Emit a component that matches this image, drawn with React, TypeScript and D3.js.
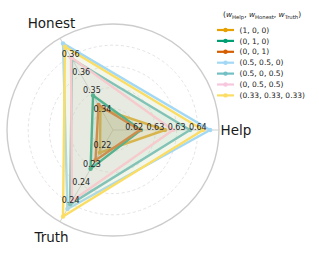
import React from 'react'
import * as d3 from 'd3'

const axisNames = ['Help', 'Honest', 'Truth']
// lower end of each axis, every axis spans 0.03
const axisLow = [0.615, 0.338, 0.218]
const axisSpan = 0.03
const tickFractions = [0.2, 0.4, 0.6, 0.8]
const tickLabels = [
  ['0.62', '0.63', '0.63', '0.64'],
  ['0.34', '0.35', '0.36', '0.36'],
  ['0.22', '0.23', '0.24', '0.24']
]

const seriesNames = [
  '(1, 0, 0)',
  '(0, 1, 0)',
  '(0, 0, 1)',
  '(0.5, 0.5, 0)',
  '(0.5, 0, 0.5)',
  '(0, 0.5, 0.5)',
  '(0.33, 0.33, 0.33)'
]
const seriesColors = ['#e6a000', '#009e73', '#d55e00', '#a3d8f5', '#72bfc4', '#f7c7de', '#fbdd63']
// [Help, Honest, Truth]
const seriesValues = [
  [0.6297, 0.3451, 0.2254],
  [0.6229, 0.3493, 0.2307],
  [0.6226, 0.3462, 0.2279],
  [0.6425, 0.3663, 0.2438],
  [0.6368, 0.3612, 0.2423],
  [0.632, 0.3618, 0.2412],
  [0.6405, 0.3652, 0.2463]
]

const width = 319,
  height = 253,
  cx = 113,
  cy = 130,
  R = 106

// d3 radial angles: 0 at 12 o'clock, clockwise
const angles = axisNames.map((d, i) => Math.PI / 2 - (i * 2 * Math.PI) / 3)
const frac = d3.scaleLinear().domain([0, 1]).range([0, R])
const axisScales = axisLow.map(lo => d3.scaleLinear().domain([lo, lo + axisSpan]).range([0, R]))

const radar = d3
  .lineRadial<number>()
  .angle((d, i) => angles[i])
  .radius((d, i) => axisScales[i](d))
  .curve(d3.curveLinearClosed)

export default function App() {
  return (
    <svg
      width={width}
      height={height}
      style={{ position: 'absolute', left: 0, top: 0, background: '#fff' }}
      fontFamily='DejaVu Sans'>
      <g transform={`translate(${cx},${cy})`}>
        {tickFractions.map(f => (
          <circle key={f} r={frac(f)} fill='none' stroke='#dcdcdc' strokeWidth={0.8} strokeDasharray='3,2.5' />
        ))}
        {angles.map((a, i) => {
          const [x, y] = d3.pointRadial(a, R)
          return <line key={i} x1={0} y1={0} x2={x} y2={y} stroke='#cfcfcf' strokeWidth={1} />
        })}
        <circle r={R} fill='none' stroke='#cccccc' strokeWidth={1.4} />

        {seriesValues.map((vals, s) => (
          <g key={s}>
            <path d={radar(vals) || ''} fill={seriesColors[s]} fillOpacity={0.13} stroke={seriesColors[s]} strokeWidth={2.4} strokeLinejoin='round' />
            {vals.map((v, i) => {
              const [x, y] = d3.pointRadial(angles[i], axisScales[i](v))
              return <circle key={i} cx={x} cy={y} r={2.2} fill={seriesColors[s]} />
            })}
          </g>
        ))}

        {angles.map((a, i) =>
          tickFractions.map((f, j) => {
            const [x, y] = d3.pointRadial(a, frac(f))
            return (
              <text key={`${i}-${j}`} x={x} y={y} textAnchor='middle' fontSize={8} fill='#262626'>
                {tickLabels[i][j]}
              </text>
            )
          })
        )}

        {angles.map((a, i) => {
          const [x, y] = d3.pointRadial(a, 123)
          return (
            <text key={i} x={x} y={y} textAnchor='middle' dominantBaseline='central' fontSize={13.5} fill='#1a1a1a'>
              {axisNames[i]}
            </text>
          )
        })}
      </g>

      <g transform='translate(223,17)' fontSize={7.5} fill='#1a1a1a'>
        <text x={0} y={0}>
          (<tspan fontStyle='italic'>w</tspan>
          <tspan fontSize={5.3} dy={1.6}>Help</tspan>
          <tspan dy={-1.6}>, </tspan>
          <tspan fontStyle='italic'>w</tspan>
          <tspan fontSize={5.3} dy={1.6}>Honest</tspan>
          <tspan dy={-1.6}>, </tspan>
          <tspan fontStyle='italic'>w</tspan>
          <tspan fontSize={5.3} dy={1.6}>Truth</tspan>
          <tspan dy={-1.6}>)</tspan>
        </text>
      </g>

      <g transform='translate(217,30)'>
        {seriesNames.map((name, i) => (
          <g key={i} transform={`translate(0,${i * 10.9})`}>
            <line x1={0} x2={17} y1={0} y2={0} stroke={seriesColors[i]} strokeWidth={2.2} />
            <circle cx={8.5} cy={0} r={2.2} fill={seriesColors[i]} />
            <text x={22.5} y={0} dy='0.35em' fontSize={7.5} fill='#1a1a1a'>
              {name}
            </text>
          </g>
        ))}
      </g>
    </svg>
  )
}
